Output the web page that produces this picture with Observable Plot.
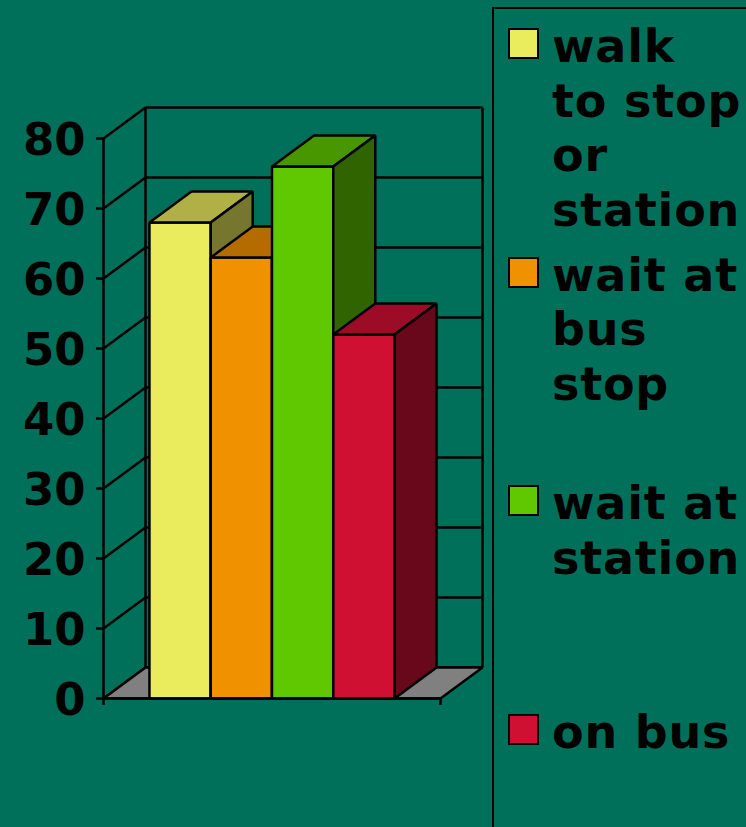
<!DOCTYPE html>
<html>
<head>
<meta charset="utf-8">
<script src="https://cdn.jsdelivr.net/npm/d3@7"></script>
<script src="https://cdn.jsdelivr.net/npm/@observablehq/plot@0.6"></script>
<style>
  html, body { margin: 0; padding: 0; background: #00705A; overflow: hidden; }
  #wrap { position: relative; width: 746px; height: 827px; background: #00705A; }
  #chart { position: absolute; left: 0; top: 0; }
  #legend {
    position: absolute; left: 492px; top: 7px; width: 300px; height: 900px;
    border: 2px solid #000; box-sizing: border-box; padding-top: 10px;
    font-family: "DejaVu Sans", sans-serif; font-weight: bold; font-size: 46px;
    line-height: 54.5px; color: #000;
  }
  .entry { display: flex; align-items: flex-start; height: 228.7px; }
  .sw { width: 31px; height: 31px; box-sizing: border-box; border: 2px solid #000;
        margin-left: 14px; margin-top: 9px; flex: none; }
  .lab { margin-left: 13px; white-space: pre; letter-spacing: 0.8px; }
</style>
</head>
<body>
<div id="wrap">
  <div id="chart"></div>
  <div id="legend"></div>
</div>
<script>
// ---- data ----
const categories = ["walk to stop or station", "wait at bus stop", "wait at station", "on bus"];
const legendLabels = ["walk\nto stop\nor\nstation", "wait at\nbus\nstop", "wait at\nstation", "on bus"];
const values = [68, 63, 76, 52];
const frontColors = ["#EBEB5E", "#F09200", "#60C800", "#D01032"];
const topColors = ["#B0B046", "#B46C00", "#489600", "#9C0C26"];
const sideColors = ["#76762F", "#784800", "#306400", "#68081A"];
const yTicks = [0, 10, 20, 30, 40, 50, 60, 70, 80];

// ---- geometry (category units / value units) ----
const GAP = 0.75;                 // half of 150% gap width
const XMAX = categories.length + 2 * GAP;
const DX = 42 / (337 / XMAX);     // depth offset in x units
const DY = 31 / 7;                // depth offset in y units
const SW = 2.5;

// faces as polygons, drawn in order
const faces = [];
faces.push({id: "floor", fill: "#808080",
  pts: [[0, 0], [XMAX, 0], [XMAX + DX, DY], [DX, DY]]});
categories.forEach((c, i) => {
  const x0 = GAP + i, x1 = GAP + i + 1, h = values[i];
  faces.push({id: c + "-front", fill: frontColors[i], pts: [[x0, 0], [x1, 0], [x1, h], [x0, h]]});
  faces.push({id: c + "-top", fill: topColors[i], pts: [[x0, h], [x1, h], [x1 + DX, h + DY], [x0 + DX, h + DY]]});
  faces.push({id: c + "-side", fill: sideColors[i], pts: [[x1, 0], [x1 + DX, DY], [x1 + DX, h + DY], [x1, h]]});
});
const rows = faces.flatMap(f => f.pts.map(([x, y]) => ({face: f.id, fill: f.fill, x, y})));

const chart = Plot.plot({
  width: 492,
  height: 827,
  marginLeft: 103,
  marginRight: 52,
  marginTop: 138,
  marginBottom: 129,
  style: {background: "transparent", color: "#000", fontFamily: "'DejaVu Sans', sans-serif"},
  x: {domain: [0, XMAX], axis: null},
  y: {domain: [0, 80], axis: null},
  color: {type: "identity"},
  marks: [
    // back wall gridlines
    Plot.link(yTicks, {x1: () => DX, x2: () => XMAX + DX, y1: v => v + DY, y2: v => v + DY, stroke: "#000", strokeWidth: SW}),
    // back wall vertical edges
    Plot.link([DX, XMAX + DX], {x1: d => d, x2: d => d, y1: () => DY, y2: () => 80 + DY, stroke: "#000", strokeWidth: SW}),
    // side wall diagonals
    Plot.link(yTicks, {x1: () => 0, y1: v => v, x2: () => DX, y2: v => v + DY, stroke: "#000", strokeWidth: SW}),
    // floor and bars
    Plot.line(rows, {x: "x", y: "y", z: "face", fill: "fill", stroke: "#000", strokeWidth: SW, curve: "linear-closed", strokeLinejoin: "miter"}),
    // front axes
    Plot.ruleX([0], {y1: 0, y2: 80, stroke: "#000", strokeWidth: SW}),
    Plot.ruleY([0], {x1: 0, x2: XMAX, stroke: "#000", strokeWidth: SW}),
    Plot.axisY({ticks: yTicks, label: null, tickSize: 7, text: null, strokeWidth: SW}),
    Plot.axisY({ticks: yTicks, label: null, tickSize: 0, tickPadding: 18, fontSize: 45, fontWeight: "bold", dy: 2, tickFormat: d => String(d)}),
    Plot.axisX({ticks: [0, XMAX], label: null, tickSize: 7, tickFormat: () => "", strokeWidth: SW})
  ]
});
document.getElementById("chart").appendChild(chart);

// legend
const legend = document.getElementById("legend");
legendLabels.forEach((lab, i) => {
  const e = document.createElement("div");
  e.className = "entry";
  const sw = document.createElement("div");
  sw.className = "sw";
  sw.style.background = frontColors[i];
  const t = document.createElement("div");
  t.className = "lab";
  t.textContent = lab;
  e.appendChild(sw); e.appendChild(t);
  legend.appendChild(e);
});
</script>
</body>
</html>
